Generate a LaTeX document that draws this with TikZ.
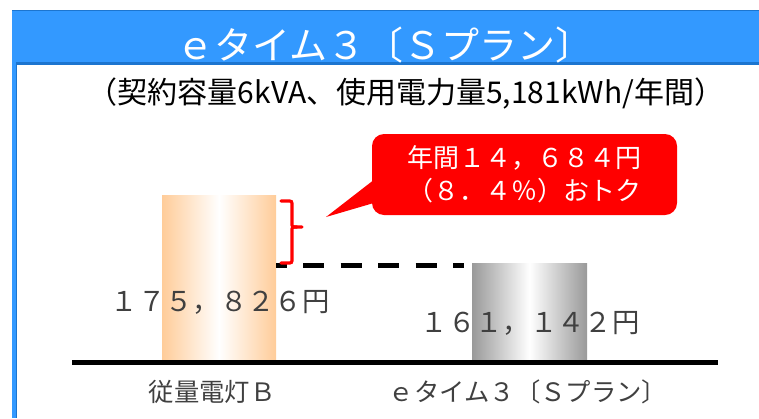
\documentclass[tikz,border=0pt]{standalone}
\usepackage{fontspec}
\setmainfont{Noto Sans CJK JP}
\usepackage{tikz}
\usetikzlibrary{calc}
\definecolor{headblue}{HTML}{3399FF}
\definecolor{headdark}{HTML}{1C75CF}
\definecolor{barorange}{HTML}{FFCC99}
\definecolor{bargray}{HTML}{999999}
\definecolor{labelgray}{HTML}{404040}

\begin{document}
\begin{tikzpicture}[x=0.75pt,y=-0.75pt,
  valuelabel/.style={text=labelgray,inner sep=0pt,font=\fontsize{20.5}{24}\selectfont},
  axislabel/.style={text=labelgray,inner sep=0pt,font=\fontsize{19}{22}\selectfont},
  bar/.style={inner sep=0pt,anchor=south,middle color=white}]
\useasboundingbox (0,0) rectangle (759,418);

% frame and header band
\fill[headblue] (12,10) rectangle (759,65);
\fill[headblue] (12,65) rectangle (16.5,418);
\draw[headdark,line width=0.75pt] (12,10.4) -- (759,10.4);
\draw[headdark,line width=2.25pt] (16,63.5) -- (759,63.5);
\draw[headdark,line width=0.75pt] (16.5,65) -- (16.5,418);

\node (title) at (385,45) [text=white,inner sep=0pt,font=\fontsize{28.5}{30}\selectfont] {ｅタイム３〔Ｓプラン〕};
\node (cond) at (406,94) [inner sep=0pt,font=\fontsize{22.5}{26}\selectfont] {（契約容量6kVA、使用電力量5,181kWh/年間）};

% bars
\node (bar1) at (219,360) [bar,left color=barorange,right color=barorange,middle color=white,
  minimum width=85.5pt,minimum height=123pt] {};
\node (bar2) at (529.5,360) [bar,left color=bargray,right color=bargray,middle color=white,
  minimum width=86.25pt,minimum height=72pt] {};
\draw[line width=3.75pt] (72,362.5) -- (718,362.5);

\node[valuelabel] (cost1) at (220,302) {１７５，８２６円};
\node[valuelabel] (cost2) at (530,323) {１６１，１４２円};
\node[axislabel] (plan1) at (212,392) {従量電灯Ｂ};
\node[axislabel] (plan2) at (528,392) {ｅタイム３〔Ｓプラン〕};

% difference
\draw[line width=3.5pt,dash pattern=on 15.75pt off 12.4pt,dash phase=8pt]
  ($(bar2.north west -| bar1.north east)+(0,2)$) -- ($(bar2.north west)+(-8,2)$);
\draw[red,line width=2.4pt,line cap=round]
  (281,201) -- (287,201) .. controls (292,201) .. (292,206) -- (292,223)
  .. controls (292,227) .. (297,227) -- (302,227);
\draw[red,line width=2.4pt,line cap=round]
  (297,227) .. controls (292,227) .. (292,231) -- (292,258)
  .. controls (292,263) .. (287,263) -- (281,263);

% callout
\node (save) at (524.5,174.5) [fill=red,rounded corners=9pt,minimum width=228.75pt,
  minimum height=60.75pt,align=center,text=white,inner sep=0pt,
  font=\fontsize{19.5}{24.75}\selectfont] {年間１４，６８４円\\（８．４％）おトク};
\coordinate (tip) at (326,217);
\fill[red] (tip) -- ($(save.west)+(2,5.5)$) -- ($(save.west)+(2,28.5)$) -- cycle;
\end{tikzpicture}
\end{document}
